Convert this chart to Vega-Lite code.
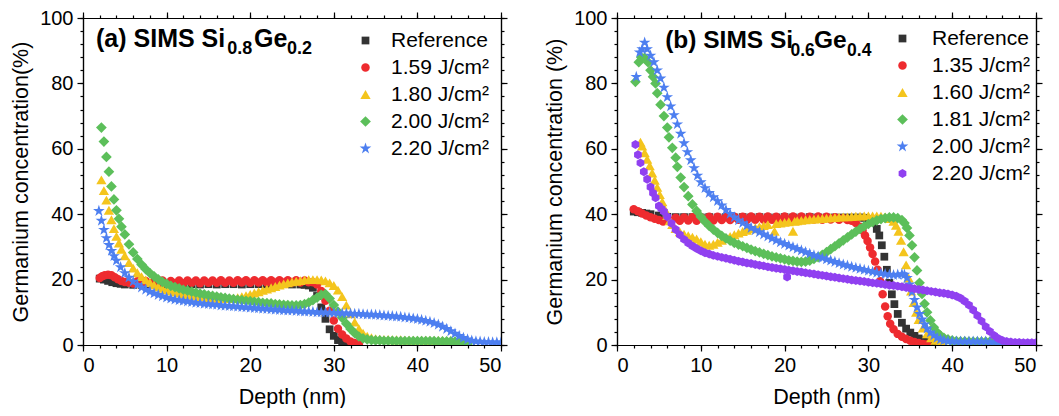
{
"$schema": "https://vega.github.io/schema/vega-lite/v6.json",
"background": "white",
"padding": {"left": 10, "top": 8, "right": 0, "bottom": 0},
"config": {
 "font": "Liberation Sans",
 "view": {"stroke": null},
 "concat": {"spacing": 36},
 "axis": {"domainColor": "#000", "tickColor": "#000", "labelColor": "#000", "titleColor": "#000", "labelFont": "Liberation Sans", "titleFont": "Liberation Sans", "labelFontSize": 20, "titleFontSize": 21.5, "titleFontWeight": "normal", "grid": false, "domainWidth": 1.2, "tickWidth": 1.2}
},
"datasets": {
"a": [
{"s":"Reference","d":2,"g":20.3},{"s":"Reference","d":2.5,"g":20.0},{"s":"Reference","d":3,"g":19.6},{"s":"Reference","d":3.5,"g":19.2},{"s":"Reference","d":4,"g":18.9},{"s":"Reference","d":4.5,"g":18.7},{"s":"Reference","d":5,"g":18.5},{"s":"Reference","d":6,"g":18.4},{"s":"Reference","d":7,"g":18.4},{"s":"Reference","d":8,"g":18.5},{"s":"Reference","d":9,"g":18.5},{"s":"Reference","d":10,"g":18.5},{"s":"Reference","d":11,"g":18.6},{"s":"Reference","d":12,"g":18.5},{"s":"Reference","d":13,"g":18.6},{"s":"Reference","d":14,"g":18.5},{"s":"Reference","d":15,"g":18.6},{"s":"Reference","d":16,"g":18.5},{"s":"Reference","d":17,"g":18.6},{"s":"Reference","d":18,"g":18.6},{"s":"Reference","d":19,"g":18.5},{"s":"Reference","d":20,"g":18.6},{"s":"Reference","d":21,"g":18.6},{"s":"Reference","d":22,"g":18.5},{"s":"Reference","d":23,"g":18.6},{"s":"Reference","d":24,"g":18.6},{"s":"Reference","d":25,"g":18.5},{"s":"Reference","d":26,"g":18.5},{"s":"Reference","d":26.5,"g":18.4},{"s":"Reference","d":27,"g":18.2},{"s":"Reference","d":27.5,"g":17.5},{"s":"Reference","d":28,"g":15},{"s":"Reference","d":28.5,"g":11.5},{"s":"Reference","d":29,"g":8},{"s":"Reference","d":29.5,"g":4.8},{"s":"Reference","d":30,"g":2.8},{"s":"Reference","d":30.5,"g":1.5},{"s":"Reference","d":31,"g":0.8},{"s":"Reference","d":31.5,"g":0.4},{"s":"Reference","d":32,"g":0.2},
{"s":"1.59","d":2,"g":20.5},{"s":"1.59","d":2.3,"g":21},{"s":"1.59","d":2.6,"g":21.3},{"s":"1.59","d":3,"g":21.5},{"s":"1.59","d":3.4,"g":21.3},{"s":"1.59","d":3.8,"g":20.7},{"s":"1.59","d":4.2,"g":20.1},{"s":"1.59","d":4.6,"g":19.6},{"s":"1.59","d":5,"g":19.3},{"s":"1.59","d":5.5,"g":19.0},{"s":"1.59","d":6,"g":18.8},{"s":"1.59","d":6.5,"g":19.5},{"s":"1.59","d":7,"g":18.8},{"s":"1.59","d":7.5,"g":19.6},{"s":"1.59","d":8,"g":18.9},{"s":"1.59","d":8.5,"g":19.6},{"s":"1.59","d":9,"g":18.9},{"s":"1.59","d":9.5,"g":19.7},{"s":"1.59","d":10,"g":18.9},{"s":"1.59","d":10.5,"g":19.6},{"s":"1.59","d":11,"g":19.0},{"s":"1.59","d":11.5,"g":19.7},{"s":"1.59","d":12,"g":18.9},{"s":"1.59","d":12.5,"g":19.7},{"s":"1.59","d":13,"g":19.0},{"s":"1.59","d":13.5,"g":19.7},{"s":"1.59","d":14,"g":18.9},{"s":"1.59","d":14.5,"g":19.7},{"s":"1.59","d":15,"g":19.0},{"s":"1.59","d":15.5,"g":19.7},{"s":"1.59","d":16,"g":19.0},{"s":"1.59","d":16.5,"g":19.8},{"s":"1.59","d":17,"g":19.0},{"s":"1.59","d":17.5,"g":19.7},{"s":"1.59","d":18,"g":19.0},{"s":"1.59","d":18.5,"g":19.8},{"s":"1.59","d":19,"g":19.1},{"s":"1.59","d":19.5,"g":19.8},{"s":"1.59","d":20,"g":19.0},{"s":"1.59","d":20.5,"g":19.8},{"s":"1.59","d":21,"g":19.1},{"s":"1.59","d":21.5,"g":19.8},{"s":"1.59","d":22,"g":19.1},{"s":"1.59","d":22.5,"g":19.8},{"s":"1.59","d":23,"g":19.1},{"s":"1.59","d":23.5,"g":19.8},{"s":"1.59","d":24,"g":19.1},{"s":"1.59","d":24.5,"g":19.8},{"s":"1.59","d":25,"g":19.1},{"s":"1.59","d":25.5,"g":19.8},{"s":"1.59","d":26,"g":19.1},{"s":"1.59","d":26.5,"g":19.7},{"s":"1.59","d":27,"g":19.2},{"s":"1.59","d":27.5,"g":19.2},{"s":"1.59","d":28,"g":18.5},{"s":"1.59","d":28.5,"g":16.5},{"s":"1.59","d":29,"g":13.5},{"s":"1.59","d":29.5,"g":10.5},{"s":"1.59","d":30,"g":7.5},{"s":"1.59","d":30.5,"g":5},{"s":"1.59","d":31,"g":3.2},{"s":"1.59","d":31.5,"g":2},{"s":"1.59","d":32,"g":1.1},{"s":"1.59","d":32.5,"g":0.6},{"s":"1.59","d":33,"g":0.3},
{"s":"1.80","d":2.2,"g":50.5},{"s":"1.80","d":2.5,"g":47.2},{"s":"1.80","d":2.8,"g":44.3},{"s":"1.80","d":3.1,"g":41.2},{"s":"1.80","d":3.4,"g":38.3},{"s":"1.80","d":3.7,"g":35.6},{"s":"1.80","d":4,"g":33.2},{"s":"1.80","d":4.3,"g":31.2},{"s":"1.80","d":4.6,"g":29.3},{"s":"1.80","d":5,"g":27.3},{"s":"1.80","d":5.5,"g":25.2},{"s":"1.80","d":6,"g":23.5},{"s":"1.80","d":6.5,"g":22.1},{"s":"1.80","d":7,"g":20.9},{"s":"1.80","d":7.5,"g":19.9},{"s":"1.80","d":8,"g":19.1},{"s":"1.80","d":8.5,"g":18.4},{"s":"1.80","d":9,"g":17.8},{"s":"1.80","d":9.5,"g":17.3},{"s":"1.80","d":10,"g":16.9},{"s":"1.80","d":10.5,"g":16.5},{"s":"1.80","d":11,"g":16.2},{"s":"1.80","d":11.5,"g":15.9},{"s":"1.80","d":12,"g":15.6},{"s":"1.80","d":12.5,"g":15.4},{"s":"1.80","d":13,"g":15.2},{"s":"1.80","d":13.5,"g":15},{"s":"1.80","d":14,"g":14.8},{"s":"1.80","d":14.5,"g":14.7},{"s":"1.80","d":15,"g":14.5},{"s":"1.80","d":15.5,"g":14.4},{"s":"1.80","d":16,"g":14.3},{"s":"1.80","d":16.5,"g":14.2},{"s":"1.80","d":17,"g":14.2},{"s":"1.80","d":17.5,"g":14.2},{"s":"1.80","d":18,"g":14.3},{"s":"1.80","d":18.5,"g":14.5},{"s":"1.80","d":19,"g":14.8},{"s":"1.80","d":19.5,"g":15.1},{"s":"1.80","d":20,"g":15.5},{"s":"1.80","d":20.5,"g":15.9},{"s":"1.80","d":21,"g":16.3},{"s":"1.80","d":21.5,"g":16.7},{"s":"1.80","d":22,"g":17.1},{"s":"1.80","d":22.5,"g":17.5},{"s":"1.80","d":23,"g":17.9},{"s":"1.80","d":23.5,"g":18.3},{"s":"1.80","d":24,"g":18.7},{"s":"1.80","d":24.5,"g":19},{"s":"1.80","d":25,"g":19.3},{"s":"1.80","d":25.5,"g":19.5},{"s":"1.80","d":26,"g":19.7},{"s":"1.80","d":26.5,"g":19.9},{"s":"1.80","d":27,"g":20},{"s":"1.80","d":27.5,"g":20},{"s":"1.80","d":28,"g":20},{"s":"1.80","d":28.5,"g":19.9},{"s":"1.80","d":29,"g":19.6},{"s":"1.80","d":29.5,"g":19},{"s":"1.80","d":30,"g":18.2},{"s":"1.80","d":30.5,"g":16.8},{"s":"1.80","d":31,"g":14.8},{"s":"1.80","d":31.5,"g":12.2},{"s":"1.80","d":32,"g":9.5},{"s":"1.80","d":32.5,"g":7},{"s":"1.80","d":33,"g":5},{"s":"1.80","d":33.5,"g":3.6},{"s":"1.80","d":34,"g":2.7},{"s":"1.80","d":34.5,"g":2.2},{"s":"1.80","d":35,"g":1.9},{"s":"1.80","d":35.5,"g":1.8},{"s":"1.80","d":36,"g":1.7},{"s":"1.80","d":36.5,"g":1.7},{"s":"1.80","d":37,"g":1.6},{"s":"1.80","d":37.5,"g":1.6},{"s":"1.80","d":38,"g":1.6},{"s":"1.80","d":38.5,"g":1.5},{"s":"1.80","d":39,"g":1.5},{"s":"1.80","d":39.5,"g":1.5},{"s":"1.80","d":40,"g":1.5},{"s":"1.80","d":40.5,"g":1.5},{"s":"1.80","d":41,"g":1.5},{"s":"1.80","d":41.5,"g":1.4},{"s":"1.80","d":42,"g":1.4},{"s":"1.80","d":42.5,"g":1.4},{"s":"1.80","d":43,"g":1.4},{"s":"1.80","d":43.5,"g":1.3},{"s":"1.80","d":44,"g":1.3},{"s":"1.80","d":44.5,"g":1.2},{"s":"1.80","d":45,"g":1},{"s":"1.80","d":45.5,"g":0.7},{"s":"1.80","d":46,"g":0.4},
{"s":"2.00","d":2.2,"g":66.5},{"s":"2.00","d":2.5,"g":62.2},{"s":"2.00","d":2.8,"g":57.5},{"s":"2.00","d":3.1,"g":53},{"s":"2.00","d":3.4,"g":48.5},{"s":"2.00","d":3.7,"g":44.5},{"s":"2.00","d":4,"g":41.2},{"s":"2.00","d":4.3,"g":38.6},{"s":"2.00","d":4.6,"g":36.2},{"s":"2.00","d":5,"g":33.8},{"s":"2.00","d":5.5,"g":30.8},{"s":"2.00","d":6,"g":28.3},{"s":"2.00","d":6.5,"g":26.3},{"s":"2.00","d":7,"g":24.6},{"s":"2.00","d":7.5,"g":23.2},{"s":"2.00","d":8,"g":22},{"s":"2.00","d":8.5,"g":21},{"s":"2.00","d":9,"g":20.1},{"s":"2.00","d":9.5,"g":19.3},{"s":"2.00","d":10,"g":18.7},{"s":"2.00","d":10.5,"g":18.1},{"s":"2.00","d":11,"g":17.7},{"s":"2.00","d":11.5,"g":17.3},{"s":"2.00","d":12,"g":16.9},{"s":"2.00","d":12.5,"g":16.6},{"s":"2.00","d":13,"g":16.3},{"s":"2.00","d":13.5,"g":16},{"s":"2.00","d":14,"g":15.7},{"s":"2.00","d":14.5,"g":15.5},{"s":"2.00","d":15,"g":15.2},{"s":"2.00","d":15.5,"g":15},{"s":"2.00","d":16,"g":14.8},{"s":"2.00","d":16.5,"g":14.6},{"s":"2.00","d":17,"g":14.4},{"s":"2.00","d":17.5,"g":14.2},{"s":"2.00","d":18,"g":14},{"s":"2.00","d":18.5,"g":13.8},{"s":"2.00","d":19,"g":13.7},{"s":"2.00","d":19.5,"g":13.5},{"s":"2.00","d":20,"g":13.4},{"s":"2.00","d":20.5,"g":13.2},{"s":"2.00","d":21,"g":13.1},{"s":"2.00","d":21.5,"g":12.9},{"s":"2.00","d":22,"g":12.8},{"s":"2.00","d":22.5,"g":12.7},{"s":"2.00","d":23,"g":12.5},{"s":"2.00","d":23.5,"g":12.4},{"s":"2.00","d":24,"g":12.3},{"s":"2.00","d":24.5,"g":12.2},{"s":"2.00","d":25,"g":12.1},{"s":"2.00","d":25.5,"g":12.1},{"s":"2.00","d":26,"g":12.2},{"s":"2.00","d":26.5,"g":12.5},{"s":"2.00","d":27,"g":13},{"s":"2.00","d":27.5,"g":13.7},{"s":"2.00","d":28,"g":14.5},{"s":"2.00","d":28.5,"g":15.3},{"s":"2.00","d":29,"g":15.6},{"s":"2.00","d":29.5,"g":14.2},{"s":"2.00","d":30,"g":12.2},{"s":"2.00","d":30.5,"g":10.2},{"s":"2.00","d":31,"g":8.3},{"s":"2.00","d":31.5,"g":6.5},{"s":"2.00","d":32,"g":4.9},{"s":"2.00","d":32.5,"g":3.6},{"s":"2.00","d":33,"g":2.6},{"s":"2.00","d":33.5,"g":2},{"s":"2.00","d":34,"g":1.7},{"s":"2.00","d":34.5,"g":1.5},{"s":"2.00","d":35,"g":1.4},{"s":"2.00","d":35.5,"g":1.4},{"s":"2.00","d":36,"g":1.3},{"s":"2.00","d":36.5,"g":1.3},{"s":"2.00","d":37,"g":1.3},{"s":"2.00","d":37.5,"g":1.2},{"s":"2.00","d":38,"g":1.2},{"s":"2.00","d":38.5,"g":1.2},{"s":"2.00","d":39,"g":1.2},{"s":"2.00","d":39.5,"g":1.2},{"s":"2.00","d":40,"g":1.2},{"s":"2.00","d":40.5,"g":1.2},{"s":"2.00","d":41,"g":1.2},{"s":"2.00","d":41.5,"g":1.2},{"s":"2.00","d":42,"g":1.2},{"s":"2.00","d":42.5,"g":1.1},{"s":"2.00","d":43,"g":1.1},{"s":"2.00","d":43.5,"g":1.1},{"s":"2.00","d":44,"g":1.1},{"s":"2.00","d":44.5,"g":1},{"s":"2.00","d":45,"g":0.9},{"s":"2.00","d":45.5,"g":0.6},{"s":"2.00","d":46,"g":0.3},
{"s":"2.20","d":1.9,"g":41},{"s":"2.20","d":2.2,"g":38},{"s":"2.20","d":2.5,"g":35.2},{"s":"2.20","d":2.8,"g":32.7},{"s":"2.20","d":3.1,"g":30.6},{"s":"2.20","d":3.4,"g":28.8},{"s":"2.20","d":3.7,"g":27.2},{"s":"2.20","d":4,"g":25.8},{"s":"2.20","d":4.5,"g":23.8},{"s":"2.20","d":5,"g":22},{"s":"2.20","d":5.5,"g":20.6},{"s":"2.20","d":6,"g":19.4},{"s":"2.20","d":6.5,"g":18.4},{"s":"2.20","d":7,"g":17.6},{"s":"2.20","d":7.5,"g":16.9},{"s":"2.20","d":8,"g":16.3},{"s":"2.20","d":8.5,"g":15.8},{"s":"2.20","d":9,"g":15.3},{"s":"2.20","d":9.5,"g":14.9},{"s":"2.20","d":10,"g":14.5},{"s":"2.20","d":10.5,"g":14.2},{"s":"2.20","d":11,"g":13.9},{"s":"2.20","d":11.5,"g":13.7},{"s":"2.20","d":12,"g":13.5},{"s":"2.20","d":12.5,"g":13.3},{"s":"2.20","d":13,"g":13.1},{"s":"2.20","d":13.5,"g":12.9},{"s":"2.20","d":14,"g":12.8},{"s":"2.20","d":14.5,"g":12.6},{"s":"2.20","d":15,"g":12.5},{"s":"2.20","d":15.5,"g":12.4},{"s":"2.20","d":16,"g":12.3},{"s":"2.20","d":16.5,"g":12.1},{"s":"2.20","d":17,"g":12},{"s":"2.20","d":17.5,"g":11.9},{"s":"2.20","d":18,"g":11.8},{"s":"2.20","d":18.5,"g":11.7},{"s":"2.20","d":19,"g":11.6},{"s":"2.20","d":19.5,"g":11.5},{"s":"2.20","d":20,"g":11.4},{"s":"2.20","d":20.5,"g":11.3},{"s":"2.20","d":21,"g":11.2},{"s":"2.20","d":21.5,"g":11.1},{"s":"2.20","d":22,"g":11},{"s":"2.20","d":22.5,"g":10.9},{"s":"2.20","d":23,"g":10.8},{"s":"2.20","d":23.5,"g":10.7},{"s":"2.20","d":24,"g":10.6},{"s":"2.20","d":24.5,"g":10.5},{"s":"2.20","d":25,"g":10.5},{"s":"2.20","d":25.5,"g":10.4},{"s":"2.20","d":26,"g":10.3},{"s":"2.20","d":26.5,"g":10.2},{"s":"2.20","d":27,"g":10.2},{"s":"2.20","d":27.5,"g":10.1},{"s":"2.20","d":28,"g":10},{"s":"2.20","d":28.5,"g":10},{"s":"2.20","d":29,"g":9.9},{"s":"2.20","d":29.5,"g":9.9},{"s":"2.20","d":30,"g":9.8},{"s":"2.20","d":30.5,"g":9.8},{"s":"2.20","d":31,"g":9.7},{"s":"2.20","d":31.5,"g":9.7},{"s":"2.20","d":32,"g":9.6},{"s":"2.20","d":32.5,"g":9.5},{"s":"2.20","d":33,"g":9.5},{"s":"2.20","d":33.5,"g":9.4},{"s":"2.20","d":34,"g":9.3},{"s":"2.20","d":34.5,"g":9.3},{"s":"2.20","d":35,"g":9.2},{"s":"2.20","d":35.5,"g":9.1},{"s":"2.20","d":36,"g":9},{"s":"2.20","d":36.5,"g":8.9},{"s":"2.20","d":37,"g":8.8},{"s":"2.20","d":37.5,"g":8.7},{"s":"2.20","d":38,"g":8.6},{"s":"2.20","d":38.5,"g":8.4},{"s":"2.20","d":39,"g":8.3},{"s":"2.20","d":39.5,"g":8.1},{"s":"2.20","d":40,"g":7.9},{"s":"2.20","d":40.5,"g":7.7},{"s":"2.20","d":41,"g":7.4},{"s":"2.20","d":41.5,"g":7.1},{"s":"2.20","d":42,"g":6.7},{"s":"2.20","d":42.5,"g":6.2},{"s":"2.20","d":43,"g":5.6},{"s":"2.20","d":43.5,"g":4.9},{"s":"2.20","d":44,"g":4.2},{"s":"2.20","d":44.5,"g":3.5},{"s":"2.20","d":45,"g":2.8},{"s":"2.20","d":45.5,"g":2.2},{"s":"2.20","d":46,"g":1.7},{"s":"2.20","d":46.5,"g":1.3},{"s":"2.20","d":47,"g":1.1},{"s":"2.20","d":47.5,"g":1},{"s":"2.20","d":48,"g":0.9},{"s":"2.20","d":48.5,"g":0.9},{"s":"2.20","d":49,"g":0.8},{"s":"2.20","d":49.5,"g":0.8},{"s":"2.20","d":50,"g":0.8}
],
"b": [
{"s":"Reference","d":2,"g":40.8},{"s":"Reference","d":2.5,"g":40.6},{"s":"Reference","d":3,"g":40.4},{"s":"Reference","d":3.5,"g":40.2},{"s":"Reference","d":4,"g":40},{"s":"Reference","d":5,"g":39.6},{"s":"Reference","d":6,"g":39.2},{"s":"Reference","d":7,"g":39.1},{"s":"Reference","d":8,"g":39.1},{"s":"Reference","d":9,"g":39.1},{"s":"Reference","d":10,"g":39.0},{"s":"Reference","d":11,"g":39.1},{"s":"Reference","d":12,"g":39.0},{"s":"Reference","d":13,"g":39.1},{"s":"Reference","d":14,"g":39.0},{"s":"Reference","d":15,"g":39.1},{"s":"Reference","d":16,"g":39.0},{"s":"Reference","d":17,"g":39.1},{"s":"Reference","d":18,"g":39.0},{"s":"Reference","d":19,"g":39.0},{"s":"Reference","d":20,"g":39.1},{"s":"Reference","d":21,"g":39.0},{"s":"Reference","d":22,"g":39.0},{"s":"Reference","d":23,"g":39.1},{"s":"Reference","d":24,"g":39.0},{"s":"Reference","d":25,"g":39.0},{"s":"Reference","d":26,"g":39.0},{"s":"Reference","d":27,"g":39.0},{"s":"Reference","d":28,"g":39.0},{"s":"Reference","d":29,"g":39.0},{"s":"Reference","d":29.5,"g":38.9},{"s":"Reference","d":30,"g":38.5},{"s":"Reference","d":30.5,"g":37.5},{"s":"Reference","d":31,"g":35.5},{"s":"Reference","d":31.3,"g":33.5},{"s":"Reference","d":31.6,"g":30.5},{"s":"Reference","d":31.9,"g":27},{"s":"Reference","d":32.2,"g":23},{"s":"Reference","d":32.5,"g":19},{"s":"Reference","d":32.8,"g":15.5},{"s":"Reference","d":33.1,"g":12.5},{"s":"Reference","d":33.5,"g":9.5},{"s":"Reference","d":34,"g":6.8},{"s":"Reference","d":34.5,"g":5},{"s":"Reference","d":35,"g":3.8},{"s":"Reference","d":35.5,"g":2.8},{"s":"Reference","d":36,"g":2},{"s":"Reference","d":36.5,"g":1.4},{"s":"Reference","d":37,"g":0.9},{"s":"Reference","d":37.5,"g":0.5},{"s":"Reference","d":38,"g":0.2},
{"s":"1.35","d":2,"g":41.5},{"s":"1.35","d":2.5,"g":40.9},{"s":"1.35","d":3,"g":40.2},{"s":"1.35","d":3.5,"g":39.6},{"s":"1.35","d":4,"g":39.1},{"s":"1.35","d":4.5,"g":38.6},{"s":"1.35","d":5,"g":38.2},{"s":"1.35","d":5.5,"g":37.8},{"s":"1.35","d":6,"g":38.6},{"s":"1.35","d":6.5,"g":37.9},{"s":"1.35","d":7,"g":38.9},{"s":"1.35","d":7.5,"g":38.0},{"s":"1.35","d":8,"g":39.0},{"s":"1.35","d":8.5,"g":38.1},{"s":"1.35","d":9,"g":39.1},{"s":"1.35","d":9.5,"g":38.0},{"s":"1.35","d":10,"g":39.1},{"s":"1.35","d":10.5,"g":38.1},{"s":"1.35","d":11,"g":39.2},{"s":"1.35","d":11.5,"g":38.1},{"s":"1.35","d":12,"g":39.2},{"s":"1.35","d":12.5,"g":38.2},{"s":"1.35","d":13,"g":39.1},{"s":"1.35","d":13.5,"g":38.2},{"s":"1.35","d":14,"g":39.2},{"s":"1.35","d":14.5,"g":38.3},{"s":"1.35","d":15,"g":39.2},{"s":"1.35","d":15.5,"g":38.2},{"s":"1.35","d":16,"g":39.3},{"s":"1.35","d":16.5,"g":38.3},{"s":"1.35","d":17,"g":39.2},{"s":"1.35","d":17.5,"g":38.3},{"s":"1.35","d":18,"g":39.3},{"s":"1.35","d":18.5,"g":38.3},{"s":"1.35","d":19,"g":39.2},{"s":"1.35","d":19.5,"g":38.4},{"s":"1.35","d":20,"g":39.3},{"s":"1.35","d":20.5,"g":38.3},{"s":"1.35","d":21,"g":39.3},{"s":"1.35","d":21.5,"g":38.4},{"s":"1.35","d":22,"g":39.3},{"s":"1.35","d":22.5,"g":38.4},{"s":"1.35","d":23,"g":39.2},{"s":"1.35","d":23.5,"g":38.4},{"s":"1.35","d":24,"g":39.3},{"s":"1.35","d":24.5,"g":38.3},{"s":"1.35","d":25,"g":39.2},{"s":"1.35","d":25.5,"g":38.4},{"s":"1.35","d":26,"g":39.1},{"s":"1.35","d":26.5,"g":38.3},{"s":"1.35","d":27,"g":38.8},{"s":"1.35","d":27.5,"g":38.2},{"s":"1.35","d":28,"g":38},{"s":"1.35","d":28.5,"g":37.3},{"s":"1.35","d":29,"g":36.2},{"s":"1.35","d":29.3,"g":35},{"s":"1.35","d":29.6,"g":33.5},{"s":"1.35","d":29.9,"g":31.8},{"s":"1.35","d":30.2,"g":29.8},{"s":"1.35","d":30.5,"g":27.8},{"s":"1.35","d":30.8,"g":25.5},{"s":"1.35","d":31.1,"g":23},{"s":"1.35","d":31.4,"g":19.5},{"s":"1.35","d":31.7,"g":15.5},{"s":"1.35","d":32,"g":11.8},{"s":"1.35","d":32.3,"g":8.8},{"s":"1.35","d":32.6,"g":6.5},{"s":"1.35","d":33,"g":4.8},{"s":"1.35","d":33.5,"g":3.4},{"s":"1.35","d":34,"g":2.5},{"s":"1.35","d":34.5,"g":1.8},{"s":"1.35","d":35,"g":1.3},{"s":"1.35","d":35.5,"g":0.9},{"s":"1.35","d":36,"g":0.6},{"s":"1.35","d":36.5,"g":0.3},{"s":"1.35","d":37,"g":0.2},
{"s":"1.60","d":2.8,"g":62},{"s":"1.60","d":3,"g":60.8},{"s":"1.60","d":3.3,"g":58.8},{"s":"1.60","d":3.6,"g":56.8},{"s":"1.60","d":3.9,"g":54.8},{"s":"1.60","d":4.2,"g":52.6},{"s":"1.60","d":4.5,"g":50.4},{"s":"1.60","d":4.8,"g":48.2},{"s":"1.60","d":5.1,"g":46},{"s":"1.60","d":5.4,"g":43.8},{"s":"1.60","d":5.7,"g":41.6},{"s":"1.60","d":6,"g":39.6},{"s":"1.60","d":6.3,"g":38},{"s":"1.60","d":6.6,"g":36.8},{"s":"1.60","d":7,"g":35.6},{"s":"1.60","d":7.5,"g":34.6},{"s":"1.60","d":8,"g":33.9},{"s":"1.60","d":8.5,"g":33.4},{"s":"1.60","d":9,"g":33},{"s":"1.60","d":9.5,"g":32.4},{"s":"1.60","d":10,"g":31.6},{"s":"1.60","d":10.5,"g":30.8},{"s":"1.60","d":11,"g":30.5},{"s":"1.60","d":11.5,"g":30.8},{"s":"1.60","d":12,"g":31.4},{"s":"1.60","d":12.5,"g":32},{"s":"1.60","d":13,"g":32.6},{"s":"1.60","d":13.5,"g":33.2},{"s":"1.60","d":14,"g":33.7},{"s":"1.60","d":14.5,"g":34.2},{"s":"1.60","d":15,"g":34.7},{"s":"1.60","d":15.5,"g":35.1},{"s":"1.60","d":16,"g":35.5},{"s":"1.60","d":16.5,"g":35.9},{"s":"1.60","d":17,"g":36.2},{"s":"1.60","d":17.5,"g":36.5},{"s":"1.60","d":18,"g":36.8},{"s":"1.60","d":18.8,"g":34.8},{"s":"1.60","d":19,"g":37.1},{"s":"1.60","d":19.5,"g":37.3},{"s":"1.60","d":20,"g":37.5},{"s":"1.60","d":20.5,"g":37.7},{"s":"1.60","d":21,"g":34.8},{"s":"1.60","d":21.2,"g":37.8},{"s":"1.60","d":21.5,"g":38},{"s":"1.60","d":22,"g":38.1},{"s":"1.60","d":22.5,"g":38.3},{"s":"1.60","d":23,"g":38.4},{"s":"1.60","d":23.5,"g":38.5},{"s":"1.60","d":24,"g":38.6},{"s":"1.60","d":24.5,"g":38.7},{"s":"1.60","d":25,"g":38.8},{"s":"1.60","d":25.5,"g":38.9},{"s":"1.60","d":26,"g":39},{"s":"1.60","d":26.5,"g":39.1},{"s":"1.60","d":27,"g":39.2},{"s":"1.60","d":27.5,"g":39.2},{"s":"1.60","d":28,"g":39.3},{"s":"1.60","d":28.5,"g":39.4},{"s":"1.60","d":29,"g":39.4},{"s":"1.60","d":29.5,"g":39.5},{"s":"1.60","d":30,"g":39.5},{"s":"1.60","d":30.5,"g":39.5},{"s":"1.60","d":31,"g":39.5},{"s":"1.60","d":31.5,"g":39.4},{"s":"1.60","d":32,"g":39.2},{"s":"1.60","d":32.5,"g":38.7},{"s":"1.60","d":33,"g":37.8},{"s":"1.60","d":33.3,"g":36.6},{"s":"1.60","d":33.6,"g":34.8},{"s":"1.60","d":33.9,"g":32},{"s":"1.60","d":34.2,"g":28.5},{"s":"1.60","d":34.5,"g":24.5},{"s":"1.60","d":34.8,"g":20.5},{"s":"1.60","d":35.1,"g":16.5},{"s":"1.60","d":35.4,"g":13},{"s":"1.60","d":35.7,"g":10},{"s":"1.60","d":36,"g":7.8},{"s":"1.60","d":36.5,"g":5.2},{"s":"1.60","d":37,"g":3.4},{"s":"1.60","d":37.5,"g":2.2},{"s":"1.60","d":38,"g":1.4},{"s":"1.60","d":38.5,"g":0.8},{"s":"1.60","d":39,"g":0.4},
{"s":"1.81","d":2.2,"g":80.5},{"s":"1.81","d":2.6,"g":86.5},{"s":"1.81","d":2.9,"g":88},{"s":"1.81","d":3.3,"g":87.8},{"s":"1.81","d":3.7,"g":86.5},{"s":"1.81","d":4,"g":84},{"s":"1.81","d":4.3,"g":82},{"s":"1.81","d":4.6,"g":80},{"s":"1.81","d":4.8,"g":77},{"s":"1.81","d":5.2,"g":73.5},{"s":"1.81","d":5.6,"g":70},{"s":"1.81","d":6,"g":66.5},{"s":"1.81","d":6.2,"g":63.5},{"s":"1.81","d":6.6,"g":60.3},{"s":"1.81","d":7,"g":57.3},{"s":"1.81","d":7.2,"g":54.5},{"s":"1.81","d":7.6,"g":51.2},{"s":"1.81","d":8,"g":48.3},{"s":"1.81","d":8.5,"g":45.5},{"s":"1.81","d":9,"g":43},{"s":"1.81","d":9.5,"g":41},{"s":"1.81","d":10,"g":39.2},{"s":"1.81","d":10.5,"g":37.7},{"s":"1.81","d":11,"g":36.4},{"s":"1.81","d":11.5,"g":35.3},{"s":"1.81","d":12,"g":34.3},{"s":"1.81","d":12.5,"g":33.4},{"s":"1.81","d":13,"g":32.6},{"s":"1.81","d":13.5,"g":31.9},{"s":"1.81","d":14,"g":31.2},{"s":"1.81","d":14.5,"g":30.7},{"s":"1.81","d":15,"g":30.2},{"s":"1.81","d":15.5,"g":29.7},{"s":"1.81","d":16,"g":29.2},{"s":"1.81","d":16.5,"g":28.7},{"s":"1.81","d":17,"g":28.3},{"s":"1.81","d":17.5,"g":27.9},{"s":"1.81","d":18,"g":27.5},{"s":"1.81","d":18.5,"g":27.1},{"s":"1.81","d":19,"g":26.8},{"s":"1.81","d":19.5,"g":26.5},{"s":"1.81","d":20,"g":26.2},{"s":"1.81","d":20.5,"g":25.9},{"s":"1.81","d":21,"g":25.7},{"s":"1.81","d":21.5,"g":25.5},{"s":"1.81","d":22,"g":25.4},{"s":"1.81","d":22.5,"g":25.5},{"s":"1.81","d":23,"g":25.8},{"s":"1.81","d":23.5,"g":26.3},{"s":"1.81","d":24,"g":26.9},{"s":"1.81","d":24.5,"g":27.6},{"s":"1.81","d":25,"g":28.4},{"s":"1.81","d":25.5,"g":29.3},{"s":"1.81","d":26,"g":30.2},{"s":"1.81","d":26.5,"g":31.1},{"s":"1.81","d":27,"g":32},{"s":"1.81","d":27.5,"g":32.9},{"s":"1.81","d":28,"g":33.8},{"s":"1.81","d":28.5,"g":34.7},{"s":"1.81","d":29,"g":35.5},{"s":"1.81","d":29.5,"g":36.3},{"s":"1.81","d":30,"g":37},{"s":"1.81","d":30.5,"g":37.6},{"s":"1.81","d":31,"g":38.1},{"s":"1.81","d":31.5,"g":38.5},{"s":"1.81","d":32,"g":38.8},{"s":"1.81","d":32.5,"g":39},{"s":"1.81","d":33,"g":39},{"s":"1.81","d":33.5,"g":38.8},{"s":"1.81","d":34,"g":38.2},{"s":"1.81","d":34.3,"g":37.3},{"s":"1.81","d":34.6,"g":35.8},{"s":"1.81","d":34.9,"g":33.5},{"s":"1.81","d":35.2,"g":30.5},{"s":"1.81","d":35.5,"g":26.8},{"s":"1.81","d":35.8,"g":22.8},{"s":"1.81","d":36.1,"g":19},{"s":"1.81","d":36.4,"g":15.6},{"s":"1.81","d":36.7,"g":12.6},{"s":"1.81","d":37,"g":10},{"s":"1.81","d":37.4,"g":7.5},{"s":"1.81","d":37.8,"g":5.4},{"s":"1.81","d":38.2,"g":3.9},{"s":"1.81","d":38.6,"g":2.9},{"s":"1.81","d":39,"g":2.2},{"s":"1.81","d":39.5,"g":1.7},{"s":"1.81","d":40,"g":1.4},{"s":"1.81","d":40.5,"g":1.2},{"s":"1.81","d":41,"g":1.1},{"s":"1.81","d":41.5,"g":1.1},{"s":"1.81","d":42,"g":1},{"s":"1.81","d":42.5,"g":1},{"s":"1.81","d":43,"g":1},{"s":"1.81","d":43.5,"g":1},{"s":"1.81","d":44,"g":1},{"s":"1.81","d":44.5,"g":1},{"s":"1.81","d":45,"g":0.9},{"s":"1.81","d":45.5,"g":0.8},{"s":"1.81","d":46,"g":0.6},
{"s":"2.00","d":2.3,"g":82},{"s":"2.00","d":2.7,"g":89.5},{"s":"2.00","d":3,"g":90.5},{"s":"2.00","d":3.3,"g":92.5},{"s":"2.00","d":3.6,"g":90.5},{"s":"2.00","d":4,"g":88.5},{"s":"2.00","d":4.4,"g":86.5},{"s":"2.00","d":4.8,"g":84},{"s":"2.00","d":5.2,"g":81.5},{"s":"2.00","d":5.6,"g":78.7},{"s":"2.00","d":6,"g":75.8},{"s":"2.00","d":6.4,"g":73},{"s":"2.00","d":6.8,"g":70.3},{"s":"2.00","d":7.2,"g":67.5},{"s":"2.00","d":7.6,"g":64.6},{"s":"2.00","d":8,"g":61.7},{"s":"2.00","d":8.4,"g":59},{"s":"2.00","d":8.8,"g":56.5},{"s":"2.00","d":9.2,"g":54.1},{"s":"2.00","d":9.6,"g":51.8},{"s":"2.00","d":10,"g":49.8},{"s":"2.00","d":10.5,"g":48},{"s":"2.00","d":11,"g":46.5},{"s":"2.00","d":11.5,"g":45.2},{"s":"2.00","d":12,"g":44},{"s":"2.00","d":12.5,"g":42.7},{"s":"2.00","d":13,"g":41.3},{"s":"2.00","d":13.5,"g":40.1},{"s":"2.00","d":14,"g":39},{"s":"2.00","d":14.5,"g":38.1},{"s":"2.00","d":15,"g":37.3},{"s":"2.00","d":15.5,"g":36.5},{"s":"2.00","d":16,"g":35.8},{"s":"2.00","d":16.5,"g":35.1},{"s":"2.00","d":17,"g":34.5},{"s":"2.00","d":17.5,"g":33.8},{"s":"2.00","d":18,"g":33.2},{"s":"2.00","d":18.5,"g":32.6},{"s":"2.00","d":19,"g":32},{"s":"2.00","d":19.5,"g":31.4},{"s":"2.00","d":20,"g":30.9},{"s":"2.00","d":20.5,"g":30.4},{"s":"2.00","d":21,"g":29.9},{"s":"2.00","d":21.5,"g":29.4},{"s":"2.00","d":22,"g":28.9},{"s":"2.00","d":22.5,"g":28.4},{"s":"2.00","d":23,"g":27.9},{"s":"2.00","d":23.5,"g":27.4},{"s":"2.00","d":24,"g":27},{"s":"2.00","d":24.5,"g":26.6},{"s":"2.00","d":25,"g":26.2},{"s":"2.00","d":25.5,"g":25.8},{"s":"2.00","d":26,"g":25.4},{"s":"2.00","d":26.5,"g":25},{"s":"2.00","d":27,"g":24.6},{"s":"2.00","d":27.5,"g":24.3},{"s":"2.00","d":28,"g":23.9},{"s":"2.00","d":28.5,"g":23.6},{"s":"2.00","d":29,"g":23.3},{"s":"2.00","d":29.5,"g":23},{"s":"2.00","d":30,"g":22.7},{"s":"2.00","d":30.5,"g":22.4},{"s":"2.00","d":31,"g":22.1},{"s":"2.00","d":31.5,"g":21.9},{"s":"2.00","d":32,"g":21.7},{"s":"2.00","d":32.5,"g":21.5},{"s":"2.00","d":33,"g":21.4},{"s":"2.00","d":33.5,"g":21.5},{"s":"2.00","d":34,"g":21.7},{"s":"2.00","d":34.3,"g":21.5},{"s":"2.00","d":34.6,"g":20.5},{"s":"2.00","d":34.9,"g":18.5},{"s":"2.00","d":35.2,"g":16.2},{"s":"2.00","d":35.5,"g":13.8},{"s":"2.00","d":35.8,"g":11.5},{"s":"2.00","d":36.1,"g":9.5},{"s":"2.00","d":36.4,"g":7.8},{"s":"2.00","d":36.7,"g":6.3},{"s":"2.00","d":37,"g":5},{"s":"2.00","d":37.4,"g":3.8},{"s":"2.00","d":37.8,"g":2.9},{"s":"2.00","d":38.2,"g":2.2},{"s":"2.00","d":38.6,"g":1.7},{"s":"2.00","d":39,"g":1.4},{"s":"2.00","d":39.5,"g":1.2},{"s":"2.00","d":40,"g":1.1},{"s":"2.00","d":40.5,"g":1},{"s":"2.00","d":41,"g":1},{"s":"2.00","d":41.5,"g":1},{"s":"2.00","d":42,"g":1},{"s":"2.00","d":42.5,"g":1},{"s":"2.00","d":43,"g":1},{"s":"2.00","d":43.5,"g":1},{"s":"2.00","d":44,"g":1},{"s":"2.00","d":44.5,"g":0.9},{"s":"2.00","d":45,"g":0.9},{"s":"2.00","d":45.5,"g":0.8},{"s":"2.00","d":46,"g":0.6},
{"s":"2.20","d":2.2,"g":61.3},{"s":"2.20","d":2.5,"g":58.2},{"s":"2.20","d":2.8,"g":55.7},{"s":"2.20","d":3.2,"g":53},{"s":"2.20","d":3.6,"g":50.7},{"s":"2.20","d":4,"g":48.3},{"s":"2.20","d":4.3,"g":46.5},{"s":"2.20","d":4.6,"g":45},{"s":"2.20","d":5,"g":42.5},{"s":"2.20","d":5.3,"g":41.7},{"s":"2.20","d":5.6,"g":40.8},{"s":"2.20","d":6,"g":39.2},{"s":"2.20","d":6.5,"g":37.2},{"s":"2.20","d":7,"g":35.3},{"s":"2.20","d":7.5,"g":33.7},{"s":"2.20","d":8,"g":32.3},{"s":"2.20","d":8.5,"g":31.2},{"s":"2.20","d":9,"g":30.3},{"s":"2.20","d":9.5,"g":29.5},{"s":"2.20","d":10,"g":28.8},{"s":"2.20","d":10.5,"g":28.2},{"s":"2.20","d":11,"g":27.8},{"s":"2.20","d":11.5,"g":27.4},{"s":"2.20","d":12,"g":27.1},{"s":"2.20","d":12.5,"g":26.8},{"s":"2.20","d":13,"g":26.5},{"s":"2.20","d":13.5,"g":26.2},{"s":"2.20","d":14,"g":25.9},{"s":"2.20","d":14.5,"g":25.6},{"s":"2.20","d":15,"g":25.4},{"s":"2.20","d":15.5,"g":25.1},{"s":"2.20","d":16,"g":24.9},{"s":"2.20","d":16.5,"g":24.6},{"s":"2.20","d":17,"g":24.4},{"s":"2.20","d":17.5,"g":24.2},{"s":"2.20","d":18,"g":23.9},{"s":"2.20","d":18.5,"g":23.7},{"s":"2.20","d":19,"g":23.5},{"s":"2.20","d":19.5,"g":23.3},{"s":"2.20","d":20,"g":23.1},{"s":"2.20","d":20.3,"g":20.8},{"s":"2.20","d":20.5,"g":22.9},{"s":"2.20","d":21,"g":22.7},{"s":"2.20","d":21.5,"g":22.5},{"s":"2.20","d":22,"g":22.3},{"s":"2.20","d":22.5,"g":22.1},{"s":"2.20","d":23,"g":21.9},{"s":"2.20","d":23.5,"g":21.7},{"s":"2.20","d":24,"g":21.5},{"s":"2.20","d":24.5,"g":21.3},{"s":"2.20","d":25,"g":21.1},{"s":"2.20","d":25.5,"g":20.9},{"s":"2.20","d":26,"g":20.7},{"s":"2.20","d":26.5,"g":20.5},{"s":"2.20","d":27,"g":20.3},{"s":"2.20","d":27.5,"g":20.1},{"s":"2.20","d":28,"g":19.9},{"s":"2.20","d":28.5,"g":19.7},{"s":"2.20","d":29,"g":19.6},{"s":"2.20","d":29.5,"g":19.4},{"s":"2.20","d":30,"g":19.2},{"s":"2.20","d":30.5,"g":19},{"s":"2.20","d":31,"g":18.9},{"s":"2.20","d":31.5,"g":18.7},{"s":"2.20","d":32,"g":18.5},{"s":"2.20","d":32.5,"g":18.3},{"s":"2.20","d":33,"g":18.2},{"s":"2.20","d":33.5,"g":18},{"s":"2.20","d":34,"g":17.8},{"s":"2.20","d":34.5,"g":17.6},{"s":"2.20","d":35,"g":17.4},{"s":"2.20","d":35.5,"g":17.2},{"s":"2.20","d":36,"g":17},{"s":"2.20","d":36.5,"g":16.8},{"s":"2.20","d":37,"g":16.6},{"s":"2.20","d":37.5,"g":16.4},{"s":"2.20","d":38,"g":16.2},{"s":"2.20","d":38.5,"g":16},{"s":"2.20","d":39,"g":15.8},{"s":"2.20","d":39.5,"g":15.6},{"s":"2.20","d":40,"g":15.3},{"s":"2.20","d":40.5,"g":14.9},{"s":"2.20","d":41,"g":14.3},{"s":"2.20","d":41.5,"g":13.4},{"s":"2.20","d":42,"g":12.2},{"s":"2.20","d":42.5,"g":10.7},{"s":"2.20","d":43,"g":9},{"s":"2.20","d":43.5,"g":7.3},{"s":"2.20","d":44,"g":5.6},{"s":"2.20","d":44.5,"g":4.1},{"s":"2.20","d":45,"g":2.9},{"s":"2.20","d":45.5,"g":2},{"s":"2.20","d":46,"g":1.4},{"s":"2.20","d":46.5,"g":1.1},{"s":"2.20","d":47,"g":0.9},{"s":"2.20","d":47.5,"g":0.8},{"s":"2.20","d":48,"g":0.8},{"s":"2.20","d":48.5,"g":0.7},{"s":"2.20","d":49,"g":0.7},{"s":"2.20","d":49.5,"g":0.7},{"s":"2.20","d":50,"g":0.7}
]
},
"hconcat": [
{
 "width": 418, "height": 327,
 "layer": [
  {
   "data": {"name": "a"},
   "mark": {"type": "point", "filled": true, "opacity": 1, "clip": true},
   "encoding": {
    "x": {"field": "d", "type": "quantitative", "scale": {"domain": [0, 50], "nice": false}, "axis": {"title": "Depth (nm)", "values": [0,10,20,30,40,50], "tickSize": 6, "labelPadding": 4, "titlePadding": 11}},
    "y": {"field": "g", "type": "quantitative", "scale": {"domain": [0, 100], "nice": false}, "axis": {"title": "Germanium concentration(%)", "values": [0,20,40,60,80,100], "tickSize": 6, "labelPadding": 4, "titlePadding": 7}},
    "color": {"field": "s", "type": "nominal", "scale": {"domain": ["Reference","1.59","1.80","2.00","2.20"], "range": ["#333333","#ee2b2f","#f4c51d","#5cbf5a","#4d7ff0"]},
      "legend": {"title": null, "orient": "none", "legendX": 272, "legendY": 12, "labelFontSize": 21, "labelFont": "Liberation Sans", "labelColor": "#000", "symbolSize": 55, "labelOffset": 15, "rowPadding": 5, "padding": 0, "symbolStrokeWidth": 0, "labelExpr": "datum.label == 'Reference' ? datum.label : datum.label + ' J/cm²'"}},
    "shape": {"field": "s", "type": "nominal", "scale": {"domain": ["Reference","1.59","1.80","2.00","2.20"], "range": ["square","circle","triangle-up","diamond","M0,-1L0.2245,-0.309L0.951,-0.309L0.363,0.118L0.588,0.809L0,0.382L-0.588,0.809L-0.363,0.118L-0.951,-0.309L-0.2245,-0.309Z"]},
      "legend": {"title": null, "orient": "none", "legendX": 272, "legendY": 12, "labelFontSize": 21, "labelFont": "Liberation Sans", "labelColor": "#000", "symbolSize": 55, "labelOffset": 15, "rowPadding": 5, "padding": 0, "symbolStrokeWidth": 0, "labelExpr": "datum.label == 'Reference' ? datum.label : datum.label + ' J/cm²'"}},
    "size": {"field": "s", "type": "nominal", "scale": {"type": "ordinal", "domain": ["Reference","1.59","1.80","2.00","2.20"], "range": [60, 72, 105, 115, 150]}, "legend": null}
   }
  },
  {
   "data": {"name": "a"},
   "mark": {"type": "point", "opacity": 0},
   "encoding": {
    "x": {"field": "d", "type": "quantitative", "axis": {"orient": "top", "values": [0,10,20,30,40,50], "labels": false, "title": null, "tickSize": 6}},
    "y": {"field": "g", "type": "quantitative", "axis": {"orient": "right", "values": [0,20,40,60,80,100], "labels": false, "title": null, "tickSize": 6}}
   }
  },
  {
   "data": {"name": "a"},
   "mark": {"type": "point", "opacity": 0},
   "encoding": {
    "x": {"field": "d", "type": "quantitative", "axis": {"orient": "bottom", "values": [0,2,4,6,8,10,12,14,16,18,20,22,24,26,28,30,32,34,36,38,40,42,44,46,48,50], "labels": false, "title": null, "tickSize": 3}},
    "y": {"field": "g", "type": "quantitative", "axis": {"orient": "left", "values": [0,4,8,12,16,20,24,28,32,36,40,44,48,52,56,60,64,68,72,76,80,84,88,92,96,100], "labels": false, "title": null, "tickSize": 3}}
   }
  },
  {
   "data": {"name": "a"},
   "mark": {"type": "point", "opacity": 0},
   "encoding": {
    "x": {"field": "d", "type": "quantitative", "axis": {"orient": "top", "values": [0,2,4,6,8,10,12,14,16,18,20,22,24,26,28,30,32,34,36,38,40,42,44,46,48,50], "labels": false, "title": null, "tickSize": 3}},
    "y": {"field": "g", "type": "quantitative", "axis": {"orient": "right", "values": [0,4,8,12,16,20,24,28,32,36,40,44,48,52,56,60,64,68,72,76,80,84,88,92,96,100], "labels": false, "title": null, "tickSize": 3}}
   }
  },
  {
   "data": {"values": [{"d": 1.56, "g": 91.1, "t": "(a) SIMS Si"}, {"d": 20.45, "g": 91.1, "t": "Ge"}]},
   "mark": {"type": "text", "align": "left", "baseline": "alphabetic", "font": "Liberation Sans", "fontWeight": "bold", "fontSize": 25, "color": "#000"},
   "encoding": {"x": {"field": "d", "type": "quantitative", "axis": null}, "y": {"field": "g", "type": "quantitative", "axis": null}, "text": {"field": "t"}}
  },
  {
   "data": {"values": [{"d": 17.25, "g": 89.1, "t": "0.8"}, {"d": 24.4, "g": 89.1, "t": "0.2"}]},
   "mark": {"type": "text", "align": "left", "baseline": "alphabetic", "font": "Liberation Sans", "fontWeight": "bold", "fontSize": 18, "color": "#000"},
   "encoding": {"x": {"field": "d", "type": "quantitative", "axis": null}, "y": {"field": "g", "type": "quantitative", "axis": null}, "text": {"field": "t"}}
  }
 ],
 "resolve": {"axis": {"x": "independent", "y": "independent"}}
},
{
 "width": 419, "height": 327,
 "layer": [
  {
   "data": {"name": "b"},
   "mark": {"type": "point", "filled": true, "opacity": 1, "clip": true},
   "encoding": {
    "x": {"field": "d", "type": "quantitative", "scale": {"domain": [0, 50], "nice": false}, "axis": {"title": "Depth (nm)", "values": [0,10,20,30,40,50], "tickSize": 6, "labelPadding": 4, "titlePadding": 11}},
    "y": {"field": "g", "type": "quantitative", "scale": {"domain": [0, 100], "nice": false}, "axis": {"title": "Germanium concentration (%)", "values": [0,20,40,60,80,100], "tickSize": 6, "labelPadding": 4, "titlePadding": 7}},
    "color": {"field": "s", "type": "nominal", "scale": {"domain": ["Reference","1.35","1.60","1.81","2.00","2.20"], "range": ["#333333","#ee2b2f","#f4c51d","#5cbf5a","#4d7ff0","#9040f0"]},
      "legend": {"title": null, "orient": "none", "legendX": 275, "legendY": 10, "labelFontSize": 21, "labelFont": "Liberation Sans", "labelColor": "#000", "symbolSize": 55, "labelOffset": 19, "rowPadding": 5, "padding": 0, "symbolStrokeWidth": 0, "labelExpr": "datum.label == 'Reference' ? datum.label : datum.label + ' J/cm²'"}},
    "shape": {"field": "s", "type": "nominal", "scale": {"domain": ["Reference","1.35","1.60","1.81","2.00","2.20"], "range": ["square","circle","triangle-up","diamond","M0,-1L0.2245,-0.309L0.951,-0.309L0.363,0.118L0.588,0.809L0,0.382L-0.588,0.809L-0.363,0.118L-0.951,-0.309L-0.2245,-0.309Z","M0,-1L0.866,-0.5L0.866,0.5L0,1L-0.866,0.5L-0.866,-0.5Z"]},
      "legend": {"title": null, "orient": "none", "legendX": 275, "legendY": 10, "labelFontSize": 21, "labelFont": "Liberation Sans", "labelColor": "#000", "symbolSize": 55, "labelOffset": 19, "rowPadding": 5, "padding": 0, "symbolStrokeWidth": 0, "labelExpr": "datum.label == 'Reference' ? datum.label : datum.label + ' J/cm²'"}},
    "size": {"field": "s", "type": "nominal", "scale": {"type": "ordinal", "domain": ["Reference","1.35","1.60","1.81","2.00","2.20"], "range": [60, 72, 105, 115, 150, 80]}, "legend": null}
   }
  },
  {
   "data": {"name": "b"},
   "mark": {"type": "point", "opacity": 0},
   "encoding": {
    "x": {"field": "d", "type": "quantitative", "axis": {"orient": "top", "values": [0,10,20,30,40,50], "labels": false, "title": null, "tickSize": 6}},
    "y": {"field": "g", "type": "quantitative", "axis": {"orient": "right", "values": [0,20,40,60,80,100], "labels": false, "title": null, "tickSize": 6}}
   }
  },
  {
   "data": {"name": "b"},
   "mark": {"type": "point", "opacity": 0},
   "encoding": {
    "x": {"field": "d", "type": "quantitative", "axis": {"orient": "bottom", "values": [0,2,4,6,8,10,12,14,16,18,20,22,24,26,28,30,32,34,36,38,40,42,44,46,48,50], "labels": false, "title": null, "tickSize": 3}},
    "y": {"field": "g", "type": "quantitative", "axis": {"orient": "left", "values": [0,4,8,12,16,20,24,28,32,36,40,44,48,52,56,60,64,68,72,76,80,84,88,92,96,100], "labels": false, "title": null, "tickSize": 3}}
   }
  },
  {
   "data": {"name": "b"},
   "mark": {"type": "point", "opacity": 0},
   "encoding": {
    "x": {"field": "d", "type": "quantitative", "axis": {"orient": "top", "values": [0,2,4,6,8,10,12,14,16,18,20,22,24,26,28,30,32,34,36,38,40,42,44,46,48,50], "labels": false, "title": null, "tickSize": 3}},
    "y": {"field": "g", "type": "quantitative", "axis": {"orient": "right", "values": [0,4,8,12,16,20,24,28,32,36,40,44,48,52,56,60,64,68,72,76,80,84,88,92,96,100], "labels": false, "title": null, "tickSize": 3}}
   }
  },
  {
   "data": {"values": [{"d": 5.75, "g": 90.9, "t": "(b) SIMS Si"}, {"d": 23.5, "g": 90.9, "t": "Ge"}]},
   "mark": {"type": "text", "align": "left", "baseline": "alphabetic", "font": "Liberation Sans", "fontWeight": "bold", "fontSize": 24.5, "color": "#000"},
   "encoding": {"x": {"field": "d", "type": "quantitative", "axis": null}, "y": {"field": "g", "type": "quantitative", "axis": null}, "text": {"field": "t"}}
  },
  {
   "data": {"values": [{"d": 20.7, "g": 88.4, "t": "0.6"}, {"d": 27.45, "g": 88.4, "t": "0.4"}]},
   "mark": {"type": "text", "align": "left", "baseline": "alphabetic", "font": "Liberation Sans", "fontWeight": "bold", "fontSize": 17.5, "color": "#000"},
   "encoding": {"x": {"field": "d", "type": "quantitative", "axis": null}, "y": {"field": "g", "type": "quantitative", "axis": null}, "text": {"field": "t"}}
  }
 ],
 "resolve": {"axis": {"x": "independent", "y": "independent"}}
}
],
"resolve": {"scale": {"color": "independent", "shape": "independent", "size": "independent"}, "legend": {"color": "independent", "shape": "independent"}}
}
